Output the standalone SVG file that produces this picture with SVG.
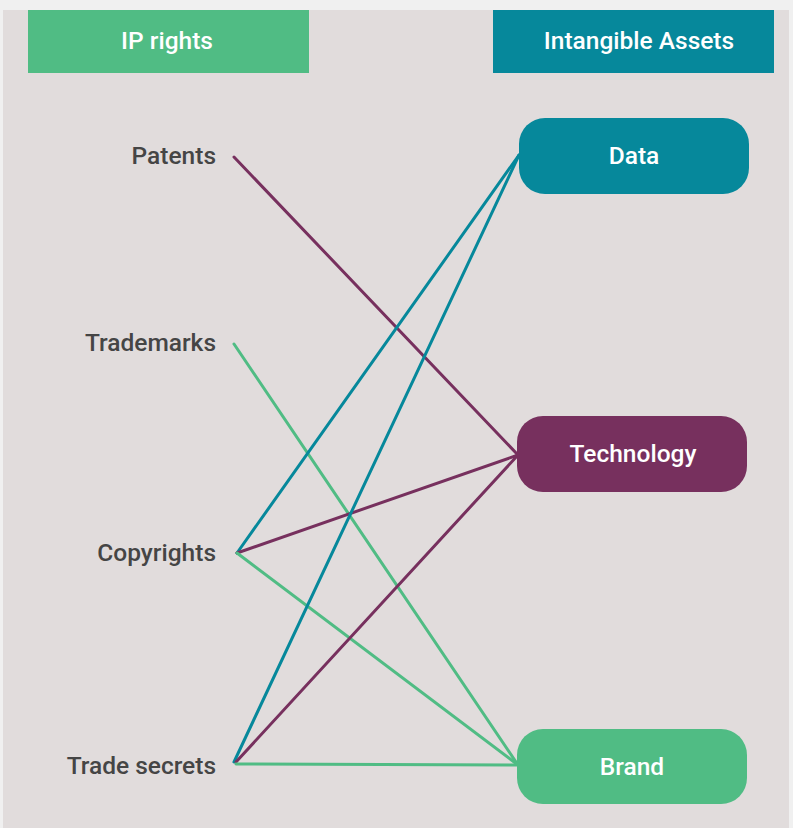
<svg xmlns="http://www.w3.org/2000/svg" width="793" height="828" viewBox="0 0 793 828">
<style>
.lbl{font-family:Roboto,"Liberation Sans",sans-serif;font-size:24.5px;font-weight:500;fill:#454545;text-anchor:end}
.wt{font-family:Roboto,"Liberation Sans",sans-serif;font-size:24.5px;font-weight:500;fill:#ffffff;text-anchor:middle}
.e{fill:none;stroke-width:3;stroke-linecap:round}
.t{stroke:#06889b}.p{stroke:#77305e}.g{stroke:#50bc84}
</style>
<rect x="0" y="0" width="793" height="828" fill="#f0f0f0"/>
<rect x="3" y="10" width="786" height="818" fill="#e1dcdc"/>
<g id="header-ip"><rect x="28" y="10" width="281" height="63" fill="#50bc84"/><text class="wt" x="167" y="49">IP rights</text></g>
<g id="header-assets"><rect x="493" y="10" width="281" height="63" fill="#06889b"/><text class="wt" x="639" y="49">Intangible Assets</text></g>
<g id="connectors">
<line class="e p" x1="234" y1="157" x2="518" y2="455"/>
<line class="e g" x1="234" y1="344" x2="518" y2="765"/>
<line class="e t" x1="237" y1="553" x2="519" y2="155"/>
<line class="e p" x1="237" y1="553" x2="518" y2="455"/>
<line class="e g" x1="237" y1="553" x2="518" y2="765"/>
<line class="e t" x1="234" y1="762" x2="519" y2="155"/>
<line class="e p" x1="236" y1="762" x2="518" y2="455"/>
<line class="e g" x1="236" y1="764" x2="518" y2="765"/>
</g>
<g id="patents"><text class="lbl" x="216" y="164">Patents</text></g>
<g id="trademarks"><text class="lbl" x="216" y="351">Trademarks</text></g>
<g id="copyrights"><text class="lbl" x="216" y="561">Copyrights</text></g>
<g id="trade-secrets"><text class="lbl" x="216" y="774">Trade secrets</text></g>
<g id="data"><rect x="519" y="118" width="230" height="76" rx="26" fill="#06889b"/><text class="wt" x="634" y="164">Data</text></g>
<g id="technology"><rect x="517" y="416" width="230" height="76" rx="26" fill="#77305e"/><text class="wt" x="633" y="462">Technology</text></g>
<g id="brand"><rect x="517" y="729" width="230" height="75" rx="26" fill="#50bc84"/><text class="wt" x="632" y="775">Brand</text></g>
</svg>
